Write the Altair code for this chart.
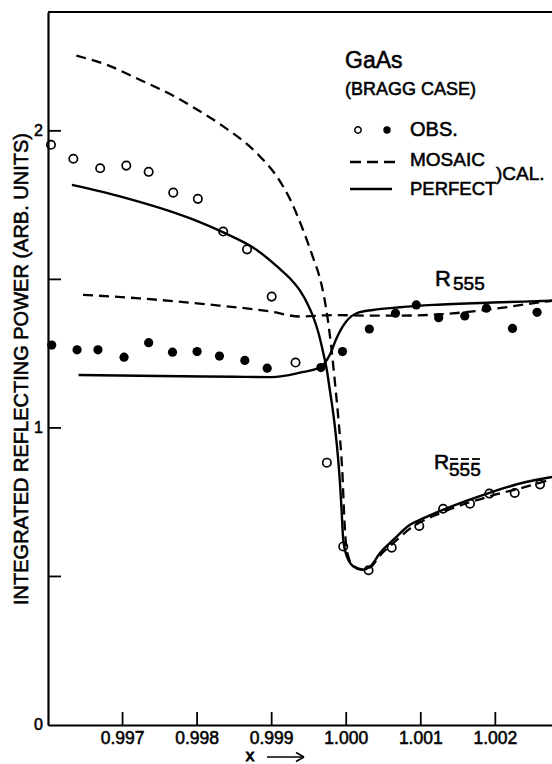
import altair as alt
import pandas as pd

# ---- data ----
open_x = [0.99604, 0.99634, 0.99670, 0.99705, 0.99735, 0.99768, 0.99801, 0.99835, 0.99867, 0.99900,
          0.99932, 0.99974, 0.99996, 1.00030, 1.00061, 1.00098, 1.00130, 1.00166, 1.00192, 1.00226, 1.00260]
open_y = [1.953, 1.906, 1.874, 1.883, 1.862, 1.792, 1.771, 1.661, 1.601, 1.442,
          1.220, 0.883, 0.601, 0.521, 0.597, 0.670, 0.728, 0.745, 0.779, 0.781, 0.810]

filled_x = [0.99605, 0.99639, 0.99667, 0.99702, 0.99735, 0.99767, 0.99800, 0.99830, 0.99864, 0.99894,
            0.99966, 0.99995, 1.00031, 1.00066, 1.00094, 1.00124, 1.00159, 1.00188, 1.00223, 1.00256]
filled_y = [1.279, 1.263, 1.263, 1.238, 1.287, 1.255, 1.257, 1.242, 1.227, 1.201,
            1.203, 1.257, 1.333, 1.386, 1.414, 1.371, 1.377, 1.403, 1.335, 1.389]

perf_bar_x = [0.99632, 0.99700, 0.99790, 0.99835, 0.99880, 0.99911, 0.99925, 0.99938, 0.99948, 0.99956,
              0.99963, 0.99969, 0.99974, 0.99978, 0.99982, 0.99985, 0.99989, 0.99992, 0.99994, 0.99996,
              1.00001, 1.00010, 1.00021, 1.00032, 1.00045, 1.00063, 1.00085, 1.00107, 1.00151, 1.00196,
              1.00241, 1.00276]
perf_bar_y = [1.818, 1.777, 1.706, 1.658, 1.599, 1.535, 1.502, 1.462, 1.418, 1.372,
              1.318, 1.255, 1.195, 1.128, 1.060, 1.000, 0.900, 0.800, 0.713, 0.623,
              0.567, 0.533, 0.522, 0.533, 0.578, 0.623, 0.673, 0.700, 0.745, 0.785,
              0.818, 0.835]

mos_bar_x = [0.99638, 0.99679, 0.99723, 0.99768, 0.99797, 0.99835, 0.99880, 0.99907, 0.99925, 0.99942,
             0.99956, 0.99964, 0.99970, 0.99975, 0.99980, 0.99985, 0.99989, 0.99992, 0.99995, 0.99997,
             0.99999, 1.00003, 1.00010, 1.00021, 1.00032, 1.00045, 1.00063, 1.00085, 1.00130, 1.00190,
             1.00250, 1.00276]
mos_bar_y = [2.253, 2.222, 2.172, 2.118, 2.076, 2.015, 1.925, 1.846, 1.768, 1.667,
             1.570, 1.510, 1.445, 1.370, 1.270, 1.150, 1.045, 0.955, 0.840, 0.720,
             0.630, 0.565, 0.535, 0.524, 0.530, 0.570, 0.612, 0.660, 0.717, 0.768,
             0.808, 0.828]

perf_555_x = [0.99641, 0.99750, 0.99850, 0.99900, 0.99938, 0.99965, 0.99978, 0.99987, 1.00000, 1.00014,
              1.00036, 1.00072, 1.00117, 1.00196, 1.00263, 1.00276]
perf_555_y = [1.178, 1.175, 1.172, 1.171, 1.186, 1.204, 1.246, 1.302, 1.358, 1.386,
              1.397, 1.406, 1.414, 1.422, 1.427, 1.428]

mos_555_x = [0.99647, 0.99723, 0.99813, 0.99898, 0.99938, 0.99983, 1.00027, 1.00072, 1.00117, 1.00196,
             1.00263, 1.00276]
mos_555_y = [1.448, 1.436, 1.416, 1.392, 1.375, 1.380, 1.378, 1.378, 1.381, 1.400,
             1.424, 1.428]

x_ticks = [0.997, 0.998, 0.999, 1.000, 1.001, 1.002]
x_tick_labels = ["0.997", "0.998", "0.999", "1.000", "1.001", "1.002"]
y_ticks = [0.5, 1.0, 1.5, 2.0]
y_labels = [0, 1, 2]

FONT = "Liberation Sans"
W, H = 504, 713
L0, T0 = 48, 12   # plot origin in page pixels
SW = 0.55          # text thickening stroke

xs = alt.Scale(domain=[0.99600, 1.00276], nice=False, zero=False)
ys = alt.Scale(domain=[0, 2.4], nice=False, zero=False)


def curve_df(xv, yv, name):
    return pd.DataFrame({"x": xv, "y": yv, "series": name})


solid_df = pd.concat([curve_df(perf_bar_x, perf_bar_y, "perf_bar"),
                      curve_df(perf_555_x, perf_555_y, "perf_555")])
dash_df = pd.concat([curve_df(mos_bar_x, mos_bar_y, "mos_bar"),
                     curve_df(mos_555_x, mos_555_y, "mos_555")])

xenc = alt.X("x:Q", scale=xs, axis=alt.Axis(
    values=x_ticks, labels=False, ticks=False, grid=False, domainColor="black", domainWidth=2.2, title=""))
yenc = alt.Y("y:Q", scale=ys, axis=alt.Axis(
    values=y_labels, labels=False, ticks=False, grid=False, domainColor="black", domainWidth=2.2, title=""))

solid = alt.Chart(solid_df).mark_line(color="black", strokeWidth=2.4, interpolate="monotone").encode(
    x=xenc, y=yenc, detail="series:N")
dashed = alt.Chart(dash_df).mark_line(color="black", strokeWidth=2.3, strokeDash=[10, 6],
                                      interpolate="monotone").encode(
    x=alt.X("x:Q", scale=xs), y=alt.Y("y:Q", scale=ys), detail="series:N")

open_pts = alt.Chart(pd.DataFrame({"x": open_x, "y": open_y})).mark_point(
    shape="circle", filled=False, color="black", strokeWidth=1.7, size=70, opacity=1).encode(
    x=alt.X("x:Q", scale=xs), y=alt.Y("y:Q", scale=ys))
filled_pts = alt.Chart(pd.DataFrame({"x": filled_x, "y": filled_y})).mark_circle(
    color="black", size=85, opacity=1).encode(
    x=alt.X("x:Q", scale=xs), y=alt.Y("y:Q", scale=ys))

# inward ticks
xtick_rules = alt.Chart(pd.DataFrame({"t": x_ticks})).mark_rule(color="black", strokeWidth=1.8).encode(
    x=alt.X("t:Q", scale=xs), y=alt.value(H), y2=alt.value(H - 13))
ytick_rules = alt.Chart(pd.DataFrame({"t": y_ticks})).mark_rule(color="black", strokeWidth=1.8).encode(
    y=alt.Y("t:Q", scale=ys), x=alt.value(0), x2=alt.value(13))
top_line = alt.Chart(pd.DataFrame({"a": [0]})).mark_rule(color="black", strokeWidth=2).encode(
    x=alt.value(0), x2=alt.value(W), y=alt.value(0))

# tick labels
xlab = alt.Chart(pd.DataFrame({"t": x_ticks, "lab": x_tick_labels})).mark_text(
    font=FONT, fontSize=17.5, color="black", stroke="black", strokeWidth=SW, baseline="middle", align="center").encode(
    x=alt.X("t:Q", scale=xs), y=alt.value(738.5 - T0), text="lab:N")
ylab = alt.Chart(pd.DataFrame({"t": y_labels})).mark_text(
    font=FONT, fontSize=16, color="black", stroke="black", strokeWidth=SW, baseline="middle", align="right").encode(
    y=alt.Y("t:Q", scale=ys), x=alt.value(-5), text=alt.Text("t:Q", format="d"))


def txt(s, px, py, size, align="left", angle=0, baseline="middle", sw=SW):
    kw = dict(text=s, font=FONT, fontSize=size, color="black", stroke="black", strokeWidth=sw,
              align=align, baseline=baseline)
    if angle:
        kw["angle"] = angle
    return alt.Chart(pd.DataFrame({"a": [0]})).mark_text(**kw).encode(
        x=alt.value(px - L0), y=alt.value(py - T0))


def seg(x1, y1, x2, y2, width=2.0, dash=None):
    kw = dict(color="black", strokeWidth=width)
    if dash:
        kw["strokeDash"] = dash
    return alt.Chart(pd.DataFrame({"a": [0]})).mark_rule(**kw).encode(
        x=alt.value(x1 - L0), x2=alt.value(x2 - L0), y=alt.value(y1 - T0), y2=alt.value(y2 - T0))


def hbar(x1, x2, py, width=2.0, dash=None):
    return seg(x1, py, x2, py, width, dash)


annotations = [
    # axis titles
    txt("INTEGRATED REFLECTING POWER (ARB. UNITS)", 22, 369, 20, align="center", angle=270),
    txt("x", 250, 755.5, 17, align="center", sw=0.9),
    hbar(267, 304, 757, 1.6),
    seg(296, 752.5, 304, 757, 1.6),
    seg(296, 761.5, 304, 757, 1.6),
    # legend block
    txt("GaAs", 345, 61, 23),
    txt("(BRAGG CASE)", 345, 90, 18),
    alt.Chart(pd.DataFrame({"a": [0]})).mark_point(shape="circle", filled=False, color="black",
                                                   strokeWidth=1.5, size=40, opacity=1).encode(
        x=alt.value(358 - L0), y=alt.value(130 - T0)),
    alt.Chart(pd.DataFrame({"a": [0]})).mark_circle(color="black", size=55, opacity=1).encode(
        x=alt.value(387 - L0), y=alt.value(130 - T0)),
    txt("OBS.", 410, 130, 20),
    hbar(350, 396, 162, 2.3, [11, 6]),
    txt("MOSAIC", 410, 160, 19),
    hbar(350, 392, 189, 2.4),
    txt("PERFECT", 410, 189, 18.5),
    txt(")CAL.", 496, 174, 19),
    # curve labels
    txt("R", 435, 279, 22),
    txt("555", 453, 284, 19),
    txt("R", 434, 463, 21),
    txt("555", 449, 470, 19),
    hbar(450, 458, 459, 1.8),
    hbar(461, 469, 459, 1.8),
    hbar(472, 480, 459, 1.8),
]

chart = alt.layer(solid, dashed, open_pts, filled_pts, xtick_rules, ytick_rules, top_line,
                  xlab, ylab, *annotations).properties(
    width=W, height=H, padding={"left": L0, "top": T0, "right": 0, "bottom": 39},
    autosize=alt.AutoSizeParams(type="none")
).configure_view(stroke=None).configure(background="white")

chart.save("out.html", embed_options={"renderer": "svg", "actions": False})
